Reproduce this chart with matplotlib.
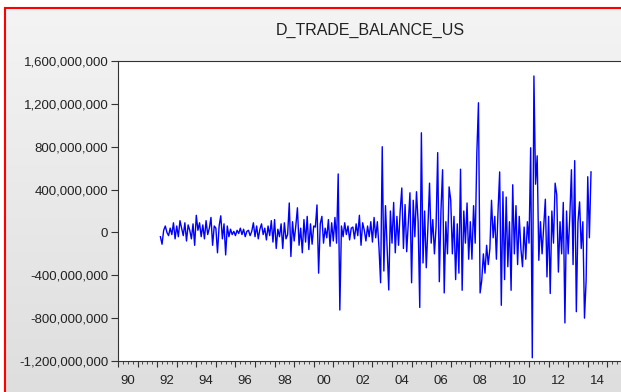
import numpy as np
import matplotlib.pyplot as plt
from matplotlib.ticker import FuncFormatter, MultipleLocator
from matplotlib.transforms import blended_transform_factory

# monthly first difference of the US trade balance, in millions (1992M03 - 2014M03)
START_YEAR, START_MONTH = 1992, 3
tb_1992 = [-40, -110, 20, 60, 0, -30, 40, -20, 90, -60]
tb_1993 = [60, -40, 110, 40, -30, 90, -80, 70, 20, -60, 80, -120]
tb_1994 = [160, 20, 90, -40, 70, -60, 110, -20, 40, 140, -120, 60]
tb_1995 = [40, -190, 60, 155, -60, 80, -210, 60, -40, 30, -20, 10]
tb_1996 = [-30, 20, -10, 40, -20, 30, -40, 10, 20, -30, 10, 90]
tb_1997 = [-40, 60, -60, 30, 80, -20, 40, -70, 60, -30, 110, -90]
tb_1998 = [120, -150, 30, -40, 80, -150, 90, -60, -20, 275, -225, 100]
tb_1999 = [-80, 60, 230, -120, 40, -190, 120, -90, 150, -160, 80, -110]
tb_2000 = [60, 50, 257, -380, 80, 150, -100, 40, -50, 120, -130, 90]
tb_2001 = [-80, 140, -100, 546, -724, 60, -40, 90, -20, 60, -70, 40]
tb_2002 = [50, -60, 80, -30, 160, -120, 90, 20, -80, 60, -40, 100]
tb_2003 = [-90, 140, -50, 100, -140, -470, 800, -360, 250, -150, -537, 200]
tb_2004 = [-100, 280, -190, 150, -120, 200, 415, -150, 260, -180, 100, 370]
tb_2005 = [-470, 300, -40, 380, 100, -700, 930, -285, 200, -330, 50, 460]
tb_2006 = [-100, 120, -200, 50, 745, -460, 200, 585, -565, 100, -200, 425]
tb_2007 = [300, -200, 150, -440, 80, -380, 590, -540, 200, -100, 275, -250]
tb_2008 = [100, -250, 250, -100, 740, 1210, -565, -450, -200, -380, -120, -300]
tb_2009 = [-150, 300, -50, 150, -250, 200, 565, -680, 380, -440, 330, -320]
tb_2010 = [100, -540, 445, -200, 250, -300, 150, -150, -320, 50, -250, 100]
tb_2011 = [-100, 790, -1170, 1460, 450, 715, -260, 100, -200, 50, 310, -415]
tb_2012 = [150, -570, 200, -100, 460, 350, -370, 100, -200, 280, -845, 200]
tb_2013 = [-200, 150, 585, -300, 670, -740, 100, 285, -150, 100, -800, -450]
tb_2014 = [520, -50, 565]

values = np.array(tb_1992 + tb_1993 + tb_1994 + tb_1995 + tb_1996 + tb_1997
                  + tb_1998 + tb_1999 + tb_2000 + tb_2001 + tb_2002 + tb_2003
                  + tb_2004 + tb_2005 + tb_2006 + tb_2007 + tb_2008 + tb_2009
                  + tb_2010 + tb_2011 + tb_2012 + tb_2013 + tb_2014) * 1e6
dates = START_YEAR + (START_MONTH - 1) / 12 + np.arange(len(values)) / 12

year_labels = ['90', '92', '94', '96', '98', '00', '02', '04', '06', '08', '10', '12', '14']
label_years = np.arange(1990, 2015, 2)

W, H = 621, 392
fig = plt.figure(figsize=(W / 100, H / 100), dpi=100)
fig.patch.set_facecolor('white')

# window background: grey gradient with red frame on the left and top
bg = fig.add_axes([0, 0, 1, 1])
bg.set_xlim(0, W)
bg.set_ylim(H, 0)
bg.axis('off')
shade = np.linspace(244, 222, 256).reshape(-1, 1) / 255
grad = np.dstack([shade, shade, shade])
bg.imshow(grad, extent=(5, W, H, 8), aspect='auto', interpolation='bilinear')
bg.plot([4.5, 4.5], [7, H], color='#FF0000', lw=1.5, solid_capstyle='butt')
bg.plot([4, W], [7.5, 7.5], color='#FF0000', lw=1.5, solid_capstyle='butt')
bg.set_xlim(0, W)
bg.set_ylim(H, 0)

px_per_year = 19.7
ax = fig.add_axes([118 / W, 31 / H, 504 / W, 300 / H])
ax.set_facecolor('white')
ax.plot(dates, values, color='#0000FF', lw=1.0)

ax.set_xlim(1990, 1990 + 504 / px_per_year)
ax.set_ylim(-1.2e9, 1.6e9)

font = 'Liberation Sans'
ax.yaxis.set_major_locator(MultipleLocator(4e8))
ax.yaxis.set_major_formatter(FuncFormatter(lambda v, p: f'{v:,.0f}'))
ax.tick_params(axis='y', direction='out', length=5, width=0.8, color='#333333',
               labelsize=9.5, labelcolor='#222222', pad=2)
for lbl in ax.get_yticklabels():
    lbl.set_family(font)

ax.set_xticks(np.arange(1990, 2016, 1))
ax.set_xticks(np.arange(1990, 2016, 0.25), minor=True)
ax.set_xticklabels([])
ax.tick_params(axis='x', which='major', direction='out', length=4, width=0.8, color='#333333')
ax.tick_params(axis='x', which='minor', direction='out', length=2.2, width=0.6, color='#333333')

trans = blended_transform_factory(ax.transData, ax.transAxes)
for yr, lab in zip(label_years, year_labels):
    ax.text(yr + 0.5, -0.045, lab, transform=trans, ha='center', va='top',
            fontsize=9.5, family=font, color='#222222')

for side in ['left', 'bottom', 'top', 'right']:
    ax.spines[side].set_color('#333333')
    ax.spines[side].set_linewidth(0.8)

fig.text(370 / W, 1 - 30 / H, 'D_TRADE_BALANCE_US', ha='center', va='center',
         fontsize=11.5, family=font, color='#222222')

fig.savefig('out.png', dpi=100)
